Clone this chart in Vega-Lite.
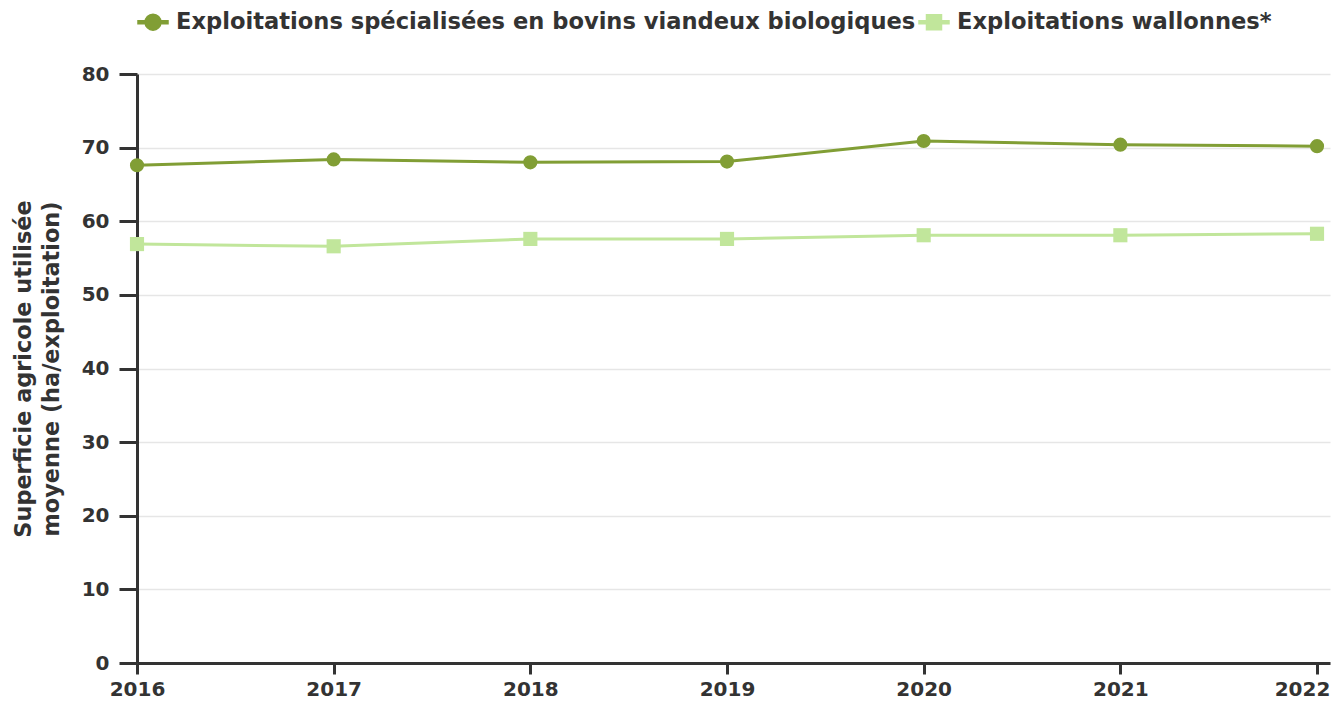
{
  "$schema": "https://vega.github.io/schema/vega-lite/v6.json",
  "width": 1193,
  "height": 589,
  "autosize": {"type": "none"},
  "padding": {"left": 137, "top": 74, "right": 4, "bottom": 38},
  "background": "white",
  "config": {
    "font": "DejaVu Sans",
    "view": {"stroke": null},
    "axis": {"labelFont": "DejaVu Sans", "labelFontWeight": "bold", "labelFontSize": 20, "labelColor": "#333333", "titleFont": "DejaVu Sans", "titleFontWeight": "bold", "titleFontSize": 22.4, "titleColor": "#333333"}
  },
  "data": {"values": [
    {"year": "2016", "series": "Exploitations spécialisées en bovins viandeux biologiques", "value": 67.6},
    {"year": "2017", "series": "Exploitations spécialisées en bovins viandeux biologiques", "value": 68.4},
    {"year": "2018", "series": "Exploitations spécialisées en bovins viandeux biologiques", "value": 68.0},
    {"year": "2019", "series": "Exploitations spécialisées en bovins viandeux biologiques", "value": 68.1},
    {"year": "2020", "series": "Exploitations spécialisées en bovins viandeux biologiques", "value": 70.9},
    {"year": "2021", "series": "Exploitations spécialisées en bovins viandeux biologiques", "value": 70.4},
    {"year": "2022", "series": "Exploitations spécialisées en bovins viandeux biologiques", "value": 70.2},
    {"year": "2016", "series": "Exploitations wallonnes*", "value": 56.9},
    {"year": "2017", "series": "Exploitations wallonnes*", "value": 56.6},
    {"year": "2018", "series": "Exploitations wallonnes*", "value": 57.6},
    {"year": "2019", "series": "Exploitations wallonnes*", "value": 57.6},
    {"year": "2020", "series": "Exploitations wallonnes*", "value": 58.1},
    {"year": "2021", "series": "Exploitations wallonnes*", "value": 58.1},
    {"year": "2022", "series": "Exploitations wallonnes*", "value": 58.3}
  ]},
  "encoding": {
    "x": {"field": "year", "type": "ordinal", "scale": {"type": "point", "padding": 0.033, "align": 0},
      "axis": {"title": null, "labelAngle": 0, "domainColor": "#333333", "domainWidth": 3, "tickColor": "#333333", "tickWidth": 3, "tickSize": 11, "grid": false, "labelPadding": 5,
        "labelOffset": {"condition": {"test": "datum.label == '2022'", "value": -15}, "value": 0}}},
    "y": {"field": "value", "type": "quantitative", "scale": {"domain": [0, 80]},
      "axis": {"title": ["Superficie agricole utilisée", "moyenne (ha/exploitation)"], "titleLineHeight": 28, "values": [0,10,20,30,40,50,60,70,80], "domainColor": "#333333", "domainWidth": 3, "tickColor": "#333333", "tickWidth": 3, "tickSize": 18, "gridColor": "#e6e6e6", "gridWidth": 1.5, "labelPadding": 10, "titlePadding": 18}},
    "color": {"field": "series", "type": "nominal",
      "scale": {"domain": ["Exploitations spécialisées en bovins viandeux biologiques", "Exploitations wallonnes*"], "range": ["#819e35", "#c1e69b"]},
      "legend": {"orient": "top", "direction": "horizontal", "title": null, "labelFont": "DejaVu Sans", "labelFontWeight": "bold", "labelFontSize": 22.6, "labelColor": "#333333", "labelLimit": 1200, "columnPadding": 0, "symbolSize": 900, "offset": 40, "labelOffset": 7,
        "symbolType": "M-1,-0.1 L1,-0.1 L1,0.1 L-1,0.1 Z M0.53,0 A0.53,0.53 0 1,1 -0.53,0 A0.53,0.53 0 1,1 0.53,0 Z",
        "encode": {"symbols": {"update": {"shape": {"signal": "datum.value === 'Exploitations wallonnes*' ? 'M-1,-0.1 L1,-0.1 L1,0.1 L-1,0.1 Z M-0.5,-0.5 L0.5,-0.5 L0.5,0.5 L-0.5,0.5 Z' : 'M-1,-0.1 L1,-0.1 L1,0.1 L-1,0.1 Z M0.53,0 A0.53,0.53 0 1,1 -0.53,0 A0.53,0.53 0 1,1 0.53,0 Z'"}}}}}}
  },
  "layer": [
    {"mark": {"type": "line", "strokeWidth": 3}},
    {"mark": {"type": "point", "filled": true, "opacity": 1, "size": 200},
     "encoding": {"shape": {"condition": {"test": "datum.series === 'Exploitations wallonnes*'", "value": "square"}, "value": "circle"}}}
  ]
}
